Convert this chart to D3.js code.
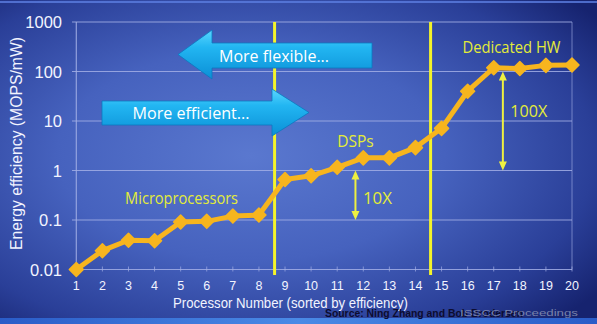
<!DOCTYPE html>
<html><head><meta charset="utf-8">
<script src="https://cdn.jsdelivr.net/npm/d3@7"></script>
<style>html,body{margin:0;padding:0;background:#1b2a80;}svg{display:block;}</style>
</head><body>
<script>
const processors = [1,2,3,4,5,6,7,8,9,10,11,12,13,14,15,16,17,18,19,20];
const efficiency = [0.01,0.024,0.039,0.038,0.091,0.094,0.12,0.126,0.66,0.78,1.16,1.8,1.8,2.9,7.1,40,119,115,133,135];
const yTicks = [0.01,0.1,1,10,100,1000];
const yTickLabels = ["0.01","0.1","1","10","100","1000"];
const dividers = [8.6,14.58];
const groupLabels = [
  {text:"Microprocessors", x:2.87, y:0.21},
  {text:"DSPs", x:11.0, y:3.0},
  {text:"Dedicated HW", x:15.8, y:233}
];
const factorArrows = [
  {label:"10X", x:11.7, from:0.1, to:1, labelAt:0.21},
  {label:"100X", x:17.35, from:1, to:100, labelAt:12.2}
];

const W=597,H=324;
const svg=d3.select("body").append("svg").attr("width",W).attr("height",H);
const defs=svg.append("defs");
const bg=defs.append("radialGradient").attr("id","bg").attr("cx","0.42").attr("cy","0.48").attr("r","0.72");
bg.append("stop").attr("offset","0").attr("stop-color","#5a78cf");
bg.append("stop").attr("offset","0.45").attr("stop-color","#4662be");
bg.append("stop").attr("offset","0.8").attr("stop-color","#2a3f98");
bg.append("stop").attr("offset","1").attr("stop-color","#16236f");
const ag=defs.append("linearGradient").attr("id","arr").attr("x1",0).attr("y1",0).attr("x2",0).attr("y2",1);
ag.append("stop").attr("offset","0").attr("stop-color","#5ad6ff");
ag.append("stop").attr("offset","0.35").attr("stop-color","#22b6f2");
ag.append("stop").attr("offset","1").attr("stop-color","#0b8fd6");
const bs=defs.append("linearGradient").attr("id","bs").attr("x1",0).attr("y1",0).attr("x2",1).attr("y2",0);
bs.append("stop").attr("offset","0").attr("stop-color","#2a5cc8");
bs.append("stop").attr("offset","0.5").attr("stop-color","#4a8ae6");
bs.append("stop").attr("offset","1").attr("stop-color","#2a5cc8");

svg.append("rect").attr("width",W).attr("height",H).attr("fill","url(#bg)");
svg.append("rect").attr("x",0).attr("y",1).attr("width",W).attr("height",2).attr("fill","#5b7de0").attr("opacity",0.8);
svg.append("rect").attr("x",0).attr("y",318).attr("width",W).attr("height",6).attr("fill","url(#bs)");

const x=d3.scaleLinear().domain([1,20]).range([76.3,572]);
const y=d3.scaleLog().domain([0.01,1000]).range([269.5,22]);

const grid="#a3afe6";
svg.append("g").selectAll("line").data(yTicks).join("line")
  .attr("x1",72).attr("x2",572).attr("y1",d=>y(d)).attr("y2",d=>y(d))
  .attr("stroke",grid).attr("stroke-width",1.2).attr("opacity",0.85);
svg.append("line").attr("x1",x(1)).attr("x2",x(1)).attr("y1",y(1000)).attr("y2",y(0.01)).attr("stroke",grid).attr("stroke-width",1.2).attr("opacity",0.85);
svg.append("line").attr("x1",x(20)).attr("x2",x(20)).attr("y1",y(1000)).attr("y2",y(0.01)).attr("stroke",grid).attr("stroke-width",1).attr("opacity",0.6);
svg.append("g").selectAll("line").data(processors).join("line")
  .attr("x1",d=>x(d)).attr("x2",d=>x(d)).attr("y1",y(0.01)-3).attr("y2",y(0.01)+2)
  .attr("stroke",grid).attr("stroke-width",1).attr("opacity",0.7);

svg.append("g").selectAll("text").data(yTicks).join("text")
  .attr("x",62).attr("y",d=>y(d)+6).attr("text-anchor","end")
  .attr("font-family","Liberation Sans, Arial, sans-serif").attr("font-size",16.5).attr("fill","#f2f4ff")
  .text((d,i)=>yTickLabels[i]);
svg.append("g").selectAll("text").data(processors).join("text")
  .attr("x",d=>x(d)).attr("y",290).attr("text-anchor","middle")
  .attr("font-family","Liberation Sans, Arial, sans-serif").attr("font-size",12.5).attr("fill","#f2f4ff")
  .text(d=>d);
svg.append("text").attr("x",290.5).attr("y",308).attr("text-anchor","middle")
  .attr("font-family","Liberation Sans, Arial, sans-serif").attr("font-size",15).attr("fill","#f2f4ff")
  .attr("textLength",235).attr("lengthAdjust","spacingAndGlyphs")
  .text("Processor Number (sorted by efficiency)");
svg.append("text").attr("transform","translate(22,143.5) rotate(-90)").attr("text-anchor","middle")
  .attr("font-family","Liberation Sans, Arial, sans-serif").attr("font-size",16).attr("fill","#f2f4ff")
  .attr("textLength",213).attr("lengthAdjust","spacingAndGlyphs")
  .text("Energy efficiency (MOPS/mW)");

// dividers (below the big arrows)
svg.append("g").selectAll("line").data(dividers).join("line")
  .attr("x1",d=>x(d)).attr("x2",d=>x(d)).attr("y1",y(1000)).attr("y2",275)
  .attr("stroke","#f4f42a").attr("stroke-width",3);

const arrowsG=svg.append("g");
arrowsG.append("path").attr("d","M178,54.5 L212,30 L212,43 L372,43 L372,68 L212,68 L212,79 Z")
  .attr("fill","url(#arr)").attr("stroke","#0a78c0").attr("stroke-width",0.8);
arrowsG.append("path").attr("d","M102,101 L272,101 L272,89 L309,112.5 L272,136 L272,125 L102,125 Z")
  .attr("fill","url(#arr)").attr("stroke","#0a78c0").attr("stroke-width",0.8);
arrowsG.append("text").attr("x",219).attr("y",62).attr("font-family","Open Sans, Noto Sans, sans-serif")
  .attr("font-size",17).attr("fill","#ffffff").attr("textLength",110).attr("lengthAdjust","spacingAndGlyphs").text("More flexible...");
arrowsG.append("text").attr("x",132.5).attr("y",119).attr("font-family","Open Sans, Noto Sans, sans-serif")
  .attr("font-size",17).attr("fill","#ffffff").attr("textLength",117).attr("lengthAdjust","spacingAndGlyphs").text("More efficient...");

const lineGen=d3.line().x((d,i)=>x(processors[i])).y(d=>y(d));
svg.append("path").datum(efficiency).attr("d",lineGen).attr("fill","none")
  .attr("stroke","#f7b51e").attr("stroke-width",5).attr("stroke-linejoin","round").attr("stroke-linecap","round");
svg.append("g").selectAll("path").data(efficiency).join("path")
  .attr("transform",(d,i)=>`translate(${x(processors[i])},${y(d)})`)
  .attr("d","M0,-7 L7,0 L0,7 L-7,0 Z").attr("fill","#f7b51e").attr("stroke","#f7b51e").attr("stroke-width",1.5).attr("stroke-linejoin","round");

const lblW={"Microprocessors":113,"DSPs":36.5,"Dedicated HW":98};
svg.append("g").selectAll("text").data(groupLabels).join("text")
  .attr("x",d=>x(d.x)).attr("y",d=>y(d.y)).attr("font-family","Open Sans, Noto Sans, sans-serif")
  .attr("font-size",16).attr("fill","#e4ec38")
  .attr("textLength",d=>lblW[d.text]).attr("lengthAdjust","spacingAndGlyphs").text(d=>d.text);

const fa=svg.append("g").selectAll("g").data(factorArrows).join("g");
fa.append("line").attr("x1",d=>x(d.x)).attr("x2",d=>x(d.x)).attr("y1",d=>y(d.to)+4).attr("y2",d=>y(d.from)-4)
  .attr("stroke","#eef040").attr("stroke-width",2);
fa.append("path").attr("d",d=>{const cx=x(d.x),t=y(d.to),b=y(d.from);
  return `M${cx},${t} L${cx-4},${t+9} L${cx+4},${t+9} Z M${cx},${b} L${cx-4},${b-9} L${cx+4},${b-9} Z`;})
  .attr("fill","#eef040");
fa.append("text").attr("x",d=>x(d.x)+7.5).attr("y",d=>y(d.labelAt))
  .attr("font-family","Open Sans, Noto Sans, sans-serif").attr("font-size",17).attr("fill","#e4ec38")
  .attr("textLength",d=>d.label==="10X"?29:37).attr("lengthAdjust","spacingAndGlyphs").text(d=>d.label);

svg.append("text").attr("x",325).attr("y",316.5).attr("font-family","Liberation Sans, Arial, sans-serif")
  .attr("font-size",11).attr("font-weight","bold").attr("fill","#0c0c30")
  .attr("textLength",198).attr("lengthAdjust","spacingAndGlyphs").text("Source: Ning Zhang and Bob Brodersen");
svg.append("text").attr("x",460).attr("y",316).attr("font-family","Liberation Sans, Arial, sans-serif")
  .attr("font-size",9).attr("fill","#9098b8").attr("opacity",0.8)
  .attr("textLength",118).attr("lengthAdjust","spacingAndGlyphs").text("ISSCC Proceedings");
</script>
</body></html>
